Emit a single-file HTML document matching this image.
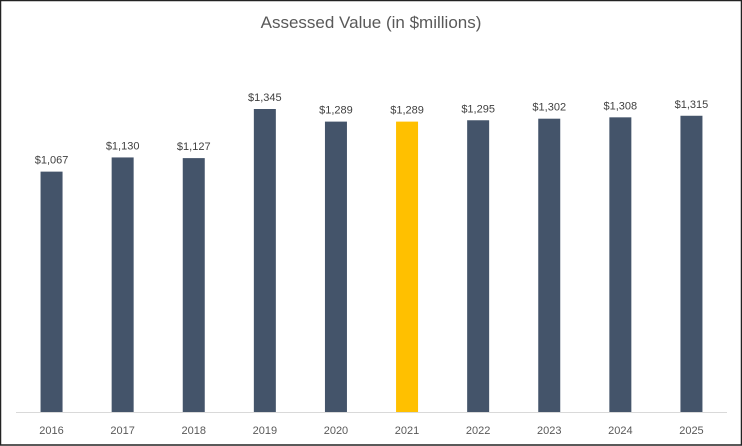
<!DOCTYPE html>
<html><head><meta charset="utf-8"><style>
body{margin:0;background:#fff}
svg{display:block;font-family:"Liberation Sans",sans-serif}
</style></head><body>
<svg id="c" width="742" height="446">
<rect x="0.5" y="0.5" width="741" height="444.5" fill="#fff" stroke="#222" stroke-width="1.5"/>
<text x="371" y="28" text-anchor="middle" font-size="17" fill="#595959">Assessed Value (in $millions)</text>
<line x1="16" y1="412.5" x2="727" y2="412.5" stroke="#d9d9d9" stroke-width="1"/>
<g id="bars"></g>
</svg>
<script>
const categories=["2016","2017","2018","2019","2020","2021","2022","2023","2024","2025"];
const values=[1067,1130,1127,1345,1289,1289,1295,1302,1308,1315];
const labels=["$1,067","$1,130","$1,127","$1,345","$1,289","$1,289","$1,295","$1,302","$1,308","$1,315"];
const highlight=["2021"];
const x0=16,x1=727,base=412,k=303/1345,bw=22;
const step=(x1-x0)/categories.length;
const xc=i=>x0+step*(i+0.5);
const y=v=>base-v*k;
const g=document.getElementById('bars');
const NS="http://www.w3.org/2000/svg";
categories.forEach((c,i)=>{
  const r=document.createElementNS(NS,'rect');
  r.setAttribute('x',xc(i)-bw/2);r.setAttribute('y',y(values[i]));
  r.setAttribute('width',bw);r.setAttribute('height',base-y(values[i]));
  r.setAttribute('fill',highlight.includes(c)?'#ffc000':'#44546a');
  
  
  g.appendChild(r);
  const t=document.createElementNS(NS,'text');
  t.setAttribute('x',xc(i));t.setAttribute('y',y(values[i])-8);
  t.setAttribute('text-anchor','middle');t.setAttribute('font-size','11');t.setAttribute('fill','#404040');
  t.textContent=labels[i];
  
  
  g.appendChild(t);
  const a=document.createElementNS(NS,'text');
  a.setAttribute('x',xc(i));a.setAttribute('y',434);
  a.setAttribute('text-anchor','middle');a.setAttribute('font-size','11');a.setAttribute('fill','#595959');
  a.textContent=c;
  
  
  g.appendChild(a);
});
</script>
</body></html>
